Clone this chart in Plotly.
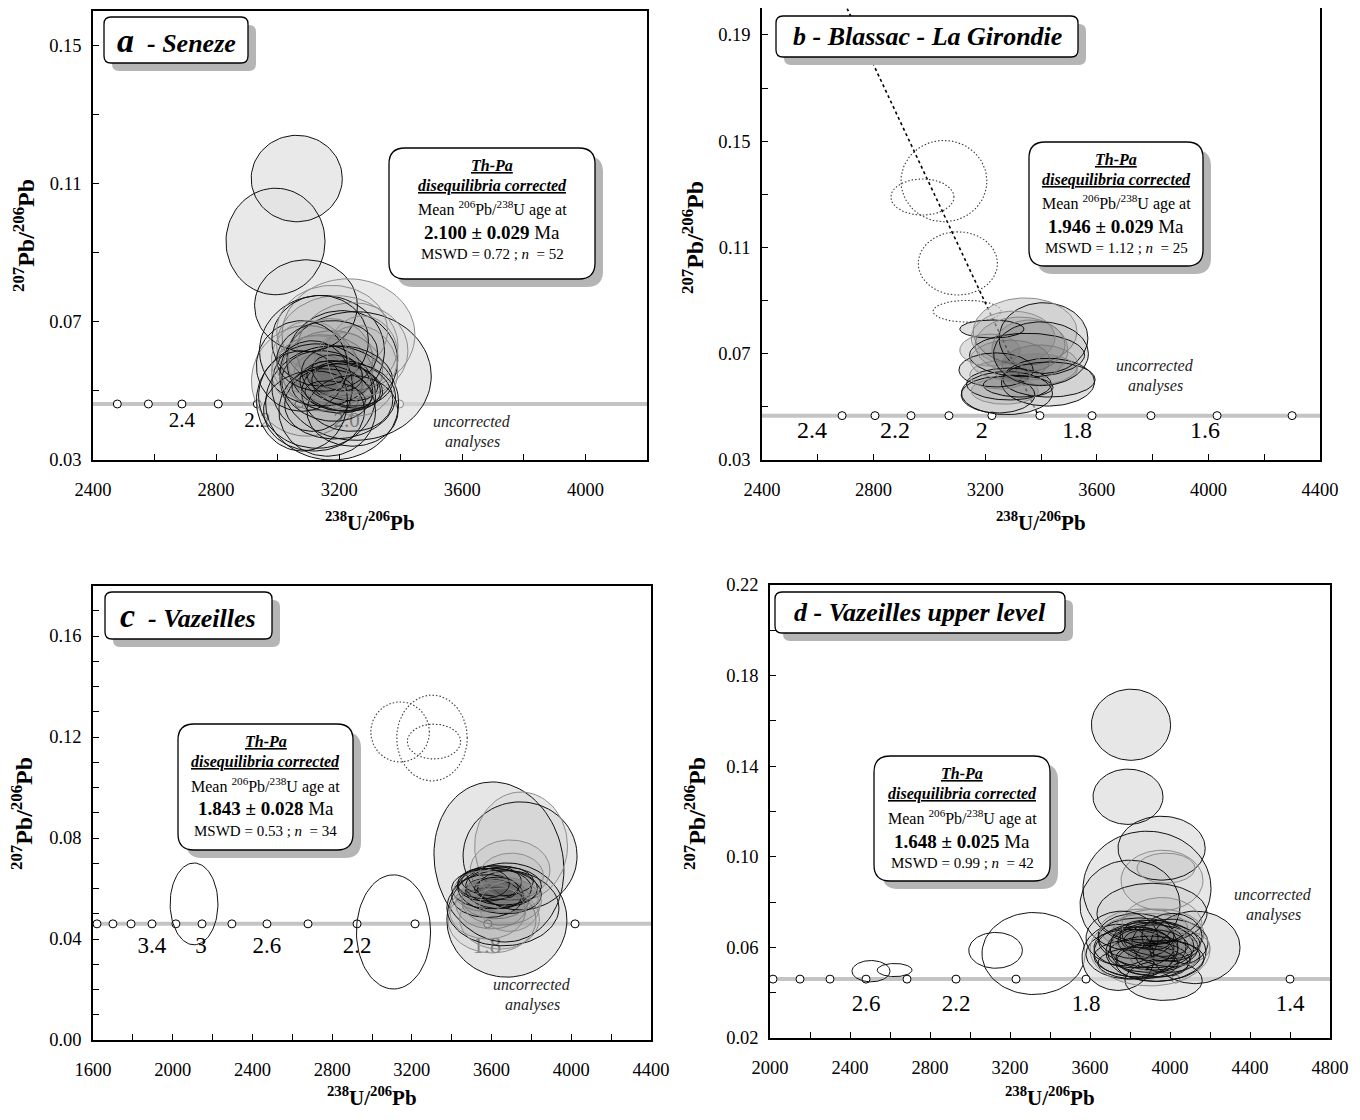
import numpy as np
import plotly.graph_objects as go

PAGE_W, PAGE_H, BODY = 1360, 1120, 8
W, H = PAGE_W - 2 * BODY, PAGE_H - 2 * BODY
SERIF = "Liberation Serif"

# ======================= DATA =======================
# ---- Panel a : Seneze (filled analyses) ----
A_CX = [3062, 2993, 3092, 3253, 3177, 3230, 3144, 3095, 3210, 3128,
        3177, 3161, 3210, 3177, 3144, 3243, 3079, 3194, 3118, 3226,
        3171, 3138, 3259, 3203, 3151, 3226, 3112, 3177, 3243, 3079,
        3194, 3217, 3161, 3128, 3226, 3187, 3161, 3105, 3276, 3203]
A_CY = [0.1114, 0.0932, 0.0746, 0.0543, 0.0465, 0.0662, 0.0616, 0.0529, 0.0587, 0.0485,
        0.0558, 0.0514, 0.0529, 0.0500, 0.0552, 0.0616, 0.0572, 0.0630, 0.0442, 0.0485,
        0.0587, 0.0645, 0.0558, 0.0471, 0.0534, 0.0514, 0.0514, 0.0674, 0.0442, 0.0471,
        0.0552, 0.0581, 0.0601, 0.0572, 0.0543, 0.0485, 0.0442, 0.0587, 0.0601, 0.0514]
A_RX = [148, 161, 167, 246, 216, 216, 203, 180, 180, 190,
        164, 148, 115, 131, 164, 180, 148, 197, 164, 148,
        138, 157, 131, 180, 98, 115, 131, 180, 148, 148,
        82, 98, 164, 131, 148, 98, 157, 125, 115, 131]
A_RY = [0.0125, 0.0154, 0.0133, 0.0186, 0.0165, 0.0162, 0.0160, 0.0160, 0.0145, 0.0151,
        0.0116, 0.0102, 0.0058, 0.0064, 0.0110, 0.0139, 0.0131, 0.0145, 0.0116, 0.0102,
        0.0122, 0.0131, 0.0131, 0.0110, 0.0073, 0.0064, 0.0131, 0.0131, 0.0102, 0.0145,
        0.0052, 0.0087, 0.0102, 0.0087, 0.0087, 0.0044, 0.0131, 0.0116, 0.0116, 0.0073]
A_RHO = [0, 0, 0, 0, 0, 0, 0, 0, 0, 0,
         0, -0.15, -0.3, -0.2, 0, 0, 0, 0, 0, -0.1,
         0, 0, 0, 0.1, -0.2, -0.25, 0, 0, 0, 0,
         -0.2, 0, 0.1, 0, -0.15, -0.3, 0, 0, 0, -0.2]
A_DARK = [1, 1, 1, 1, 1, 0, 1, 0, 1, 1,
          0, 1, 1, 1, 0, 0, 1, 0, 1, 1,
          0, 1, 0, 1, 0, 1, 1, 0, 1, 1,
          1, 0, 1, 0, 1, 1, 1, 0, 0, 1]
A_CONC_Y = 0.0462
A_MARK_X = [2479, 2580, 2689, 2807, 2934, 3070, 3224, 3396]
A_LAB_T = ["2.4", "2.2", "2.0"]
A_LAB_X = [2689, 2934, 3224]
A_LAB_Y = 0.0410

# ---- Panel b : Blassac - La Girondie ----
B_CX = [3278, 3224, 3409, 3343, 3239, 3246, 3429, 3425, 3318, 3285, 3350,
        3325, 3289, 3396, 3253, 3360, 3217, 3300, 3380, 3270, 3400]
B_CY = [0.0552, 0.0793, 0.0759, 0.0784, 0.0639, 0.0545, 0.0603, 0.0593, 0.0578, 0.0586, 0.0695,
        0.0733, 0.0676, 0.0658, 0.0620, 0.0714, 0.0714, 0.0760, 0.0640, 0.0560, 0.0700]
B_RX = [163, 115, 159, 186, 133, 132, 165, 167, 125, 152, 206,
        161, 143, 136, 108, 136, 108, 150, 150, 120, 170]
B_RY = [0.0081, 0.0034, 0.0133, 0.0126, 0.0064, 0.0068, 0.0066, 0.0090, 0.0041, 0.0060, 0.0082,
        0.0105, 0.0075, 0.0075, 0.0053, 0.0113, 0.0060, 0.0100, 0.0060, 0.0050, 0.0120]
B_RHO = [0, 0, 0, 0, 0, 0, 0, 0, -0.1, 0, 0,
         0, 0, 0, 0, 0, 0, 0, 0, 0, 0]
B_DARK = [1, 1, 1, 0, 1, 1, 1, 1, 1, 1, 1,
          0, 0, 0, 0, 0, 0, 0, 0, 0, 1]
B_X_CX = [3052, 2975, 3102, 3135]          # excluded (dotted)
B_X_CY = [0.1350, 0.1290, 0.1040, 0.0860]
B_X_RX = [154, 113, 142, 122]
B_X_RY = [0.0153, 0.0068, 0.0119, 0.0041]
B_MIX_X = [2705, 3389]
B_MIX_Y = [0.2000, 0.0470]
B_CONC_Y = 0.0467
B_MARK_X = [2687, 2805, 2934, 3070, 3224, 3396, 3583, 3794, 4031, 4300]
B_LAB_T = ["2.4", "2.2", "2", "1.8", "1.6"]
B_LAB_X = [2579, 2877, 3188, 3529, 3988]
B_LAB_Y = 0.0405

# ---- Panel c : Vazeilles ----
C_CX = [3637, 3677, 3743, 3748, 3693, 3602, 3657, 3600, 3640, 3580, 3660, 3620, 3590,
        3650, 3610, 3680, 3560, 3630, 3600, 3670, 3625, 3580, 3700, 3640, 3560, 3690]
C_CY = [0.0705, 0.0475, 0.0729, 0.0768, 0.0673, 0.0475, 0.0523, 0.0600, 0.0590, 0.0570, 0.0610, 0.0560, 0.0620,
        0.0550, 0.0580, 0.0600, 0.0590, 0.0630, 0.0540, 0.0570, 0.0600, 0.0510, 0.0650, 0.0480, 0.0620, 0.0530]
C_RX = [326, 301, 286, 233, 200, 221, 281, 200, 210, 180, 190, 170, 160,
        200, 140, 150, 150, 180, 180, 170, 110, 190, 160, 200, 130, 150]
C_RY = [0.0317, 0.0226, 0.0214, 0.0214, 0.0119, 0.0130, 0.0150, 0.0080, 0.0090, 0.0085, 0.0075, 0.0080, 0.0070,
        0.0095, 0.0060, 0.0070, 0.0080, 0.0060, 0.0100, 0.0065, 0.0045, 0.0110, 0.0090, 0.0120, 0.0060, 0.0100]
C_RHO = [-0.1, 0, 0, 0, 0, 0, 0, 0, -0.15, 0, 0, 0, 0.1,
         0, -0.2, 0, 0, 0, 0, 0, 0, 0, 0, 0, 0, 0]
C_DARK = [1, 1, 1, 0, 0, 0, 1, 1, 1, 1, 1, 0, 1,
          0, 1, 1, 0, 1, 0, 0, 1, 0, 0, 0, 1, 0]
C_X_CX = [3141, 3301, 3311]                # excluded (dotted)
C_X_CY = [0.1220, 0.1196, 0.1182]
C_X_RX = [147, 177, 134]
C_X_RY = [0.0119, 0.0170, 0.0069]
C_O_CX = [2107, 3108]                      # open ellipses
C_O_CY = [0.0539, 0.0428]
C_O_RX = [120, 186]
C_O_RY = [0.0162, 0.0226]
C_CONC_Y = 0.0460
C_MARK_X = [1620, 1700, 1791, 1896, 2016, 2147, 2297, 2473, 2679, 2925, 3216, 3581, 4019]
C_LAB_T = ["3.4", "3", "2.6", "2.2", "1.8"]
C_LAB_X = [1896, 2142, 2473, 2925, 3577]
C_LAB_Y = 0.0368

# ---- Panel d : Vazeilles upper level ----
D_CX = [3805, 3790, 3958, 3885, 3800, 3960, 3980, 4125, 3968, 3740, 3910,
        3880, 3920, 3850, 3950, 3900, 3830, 3970, 3860, 3940, 3890, 3820, 4000,
        3910, 3870, 3930, 3800, 4030, 3960, 3880, 3840, 3990, 3900, 3950, 3870,
        4010, 3930, 3760]
D_CY = [0.1583, 0.1265, 0.1038, 0.0861, 0.0786, 0.0896, 0.0950, 0.0600, 0.0454, 0.0556, 0.0750,
        0.0620, 0.0600, 0.0590, 0.0630, 0.0570, 0.0650, 0.0580, 0.0550, 0.0660, 0.0610, 0.0600, 0.0620,
        0.0540, 0.0680, 0.0580, 0.0570, 0.0600, 0.0700, 0.0640, 0.0530, 0.0560, 0.0590, 0.0540, 0.0600,
        0.0650, 0.0620, 0.0640]
D_RX = [198, 175, 218, 320, 250, 205, 145, 225, 193, 180, 275,
        240, 220, 230, 200, 210, 190, 180, 240, 230, 150, 200, 190,
        180, 220, 250, 220, 170, 200, 120, 200, 160, 300, 220, 170,
        150, 160, 180]
D_RY = [0.0157, 0.0122, 0.0141, 0.0252, 0.0199, 0.0133, 0.0066, 0.0160, 0.0088, 0.0146, 0.0133,
        0.0110, 0.0100, 0.0120, 0.0090, 0.0080, 0.0100, 0.0095, 0.0085, 0.0110, 0.0070, 0.0090, 0.0105,
        0.0070, 0.0090, 0.0130, 0.0110, 0.0080, 0.0120, 0.0050, 0.0070, 0.0070, 0.0160, 0.0090, 0.0120,
        0.0100, 0.0060, 0.0120]
D_RHO = [0, 0, 0, 0, 0, 0, 0, 0, 0, 0, 0,
         -0.15, 0, 0.1, -0.2, 0, 0, 0, -0.1, 0, -0.25, 0, 0,
         -0.2, 0, 0, 0, 0, 0, -0.3, 0, 0, 0, 0.1, 0,
         0, -0.2, 0]
D_DARK = [1, 1, 1, 1, 1, 0, 0, 1, 1, 1, 1,
          1, 1, 1, 1, 1, 1, 0, 1, 0, 1, 1, 1,
          1, 0, 1, 1, 0, 0, 1, 1, 1, 0, 1, 1,
          1, 1, 1]
D_O_CX = [3318, 3128, 2505, 2623]          # open ellipses
D_O_CY = [0.0573, 0.0587, 0.0495, 0.0500]
D_O_RX = [258, 134, 95, 87]
D_O_RY = [0.0181, 0.0079, 0.0047, 0.0029]
D_CONC_Y = 0.0460
D_MARK_X = [2015, 2150, 2300, 2480, 2685, 2930, 3230, 3580, 4029, 4600]
D_LAB_T = ["2.6", "2.2", "1.8", "1.4"]
D_LAB_X = [2480, 2930, 3580, 4600]
D_LAB_Y = 0.0344

# ======================= HELPERS =======================
T = np.linspace(0, 2 * np.pi, 91)


def ell(cx, cy, rx, ry, rho=0.0):
    phi = np.arcsin(rho)
    return cx + rx * np.cos(T), cy + ry * np.sin(T + phi)


def PX(x):   # page pixel -> paper fraction
    return (x - BODY) / W


def PY(y):
    return 1 - (y - BODY) / H


def P(x, y):
    return f"{PX(x):.5f},{PY(y):.5f}"


def rr_path(x0, y0, x1, y1, r):
    return (f"M {P(x0 + r, y0)} L {P(x1 - r, y0)} Q {P(x1, y0)} {P(x1, y0 + r)} "
            f"L {P(x1, y1 - r)} Q {P(x1, y1)} {P(x1 - r, y1)} L {P(x0 + r, y1)} "
            f"Q {P(x0, y1)} {P(x0, y1 - r)} L {P(x0, y0 + r)} Q {P(x0, y0)} {P(x0 + r, y0)} Z")


fig = go.Figure()
shapes = []
annots = []


def ann(px, py, text, size, **kw):
    d = dict(x=PX(px), y=PY(py), xref="paper", yref="paper", text=text,
             showarrow=False, xanchor="center", yanchor="middle",
             font=dict(family=SERIF, size=size, color=kw.pop("color", "black")))
    d.update(kw)
    annots.append(d)


def box(x0, y0, x1, y1, r, off=8):
    shapes.append(dict(type="path", xref="paper", yref="paper", layer="above",
                       path=rr_path(x0 + off, y0 + off, x1 + off, y1 + off, r),
                       fillcolor="#b5b5b5", line=dict(width=0)))
    shapes.append(dict(type="path", xref="paper", yref="paper", layer="above",
                       path=rr_path(x0, y0, x1, y1, r),
                       fillcolor="white", line=dict(color="black", width=1.3)))


panels = [
    dict(n="", xr=[2400, 4200], yr=[0.03, 0.16], xd=(93, 647), yd=(10.5, 460),
         xt=400, xm=200, y0=0.03, yt=0.04, ym=0.02,
         cx=A_CX, cy=A_CY, rx=A_RX, ry=A_RY, rho=A_RHO, dark=A_DARK,
         base="rgba(228,228,228,0.62)", dk=0.018,
         conc=A_CONC_Y, mx=A_MARK_X, lt=A_LAB_T, lx=A_LAB_X, ly=A_LAB_Y, ls=21),
    dict(n="2", xr=[2400, 4400], yr=[0.03, 0.20], xd=(762, 1320), yd=(8.4, 460),
         xt=400, xm=200, y0=0.03, yt=0.04, ym=0.02,
         cx=B_CX, cy=B_CY, rx=B_RX, ry=B_RY, rho=B_RHO, dark=B_DARK,
         base="rgba(224,224,224,0.65)", dk=0.05,
         conc=B_CONC_Y, mx=B_MARK_X, lt=B_LAB_T, lx=B_LAB_X, ly=B_LAB_Y, ls=24,
         xc=(B_X_CX, B_X_CY, B_X_RX, B_X_RY)),
    dict(n="3", xr=[1600, 4400], yr=[0.0, 0.18], xd=(93, 651), yd=(585.5, 1040),
         xt=400, xm=200, y0=0.0, yt=0.04, ym=0.01,
         cx=C_CX, cy=C_CY, rx=C_RX, ry=C_RY, rho=C_RHO, dark=C_DARK,
         base="rgba(228,228,228,0.62)", dk=0.03,
         conc=C_CONC_Y, mx=C_MARK_X, lt=C_LAB_T, lx=C_LAB_X, ly=C_LAB_Y, ls=23,
         xc=(C_X_CX, C_X_CY, C_X_RX, C_X_RY), op=(C_O_CX, C_O_CY, C_O_RX, C_O_RY)),
    dict(n="4", xr=[2000, 4800], yr=[0.02, 0.22], xd=(770, 1330), yd=(585, 1038),
         xt=400, xm=200, y0=0.02, yt=0.04, ym=0.02,
         cx=D_CX, cy=D_CY, rx=D_RX, ry=D_RY, rho=D_RHO, dark=D_DARK,
         base="rgba(228,228,228,0.62)", dk=0.028,
         conc=D_CONC_Y, mx=D_MARK_X, lt=D_LAB_T, lx=D_LAB_X, ly=D_LAB_Y, ls=23,
         op=(D_O_CX, D_O_CY, D_O_RX, D_O_RY)),
]

layout_axes = {}
for p in panels:
    xa, ya = "x" + p["n"], "y" + p["n"]
    layout_axes["xaxis" + p["n"]] = dict(
        domain=[PX(p["xd"][0]), PX(p["xd"][1])], range=p["xr"], anchor=ya,
        automargin=False,
        tick0=p["xr"][0], dtick=p["xt"], ticks="inside", ticklen=6, tickwidth=1,
        tickcolor="black", minor=dict(dtick=p["xm"], tick0=p["xr"][0], ticks="inside",
                                      ticklen=6, tickcolor="black", tickwidth=1),
        showline=True, mirror=True, linecolor="black", linewidth=1.5,
        showgrid=False, zeroline=False, ticklabelstandoff=12,
        tickfont=dict(family=SERIF, size=18.5, color="black"))
    layout_axes["yaxis" + p["n"]] = dict(
        domain=[PY(p["yd"][1]), PY(p["yd"][0])], range=p["yr"], anchor=xa,
        automargin=False,
        tick0=p["y0"], dtick=p["yt"], tickformat=".2f", ticks="inside", ticklen=6,
        tickwidth=1, tickcolor="black",
        minor=dict(dtick=p["ym"], tick0=p["y0"], ticks="inside", ticklen=6,
                   tickcolor="black", tickwidth=1),
        showline=True, mirror=True, linecolor="black", linewidth=1.5,
        showgrid=False, zeroline=False, ticklabelstandoff=6,
        tickfont=dict(family=SERIF, size=18.5, color="black"))

    common = dict(xaxis=xa, yaxis=ya, hoverinfo="skip", showlegend=False)
    # concordia
    fig.add_trace(go.Scatter(x=p["xr"], y=[p["conc"]] * 2, mode="lines",
                             line=dict(color="#c4c4c4", width=4), **common))
    fig.add_trace(go.Scatter(x=p["mx"], y=[p["conc"]] * len(p["mx"]), mode="markers",
                             marker=dict(size=8, color="white",
                                         line=dict(color="black", width=1)), **common))
    fig.add_trace(go.Scatter(x=p["lx"], y=[p["ly"]] * len(p["lx"]), mode="text",
                             text=p["lt"], textposition="middle center",
                             textfont=dict(family=SERIF, size=p["ls"], color="black"),
                             **common))
    if p["n"] == "2":
        fig.add_trace(go.Scatter(x=B_MIX_X, y=B_MIX_Y, mode="lines",
                                 line=dict(color="black", width=1.6, dash="dot"), **common))
    if "xc" in p:
        for cx, cy, rx, ry in zip(*p["xc"]):
            ex, ey = ell(cx, cy, rx, ry)
            fig.add_trace(go.Scatter(x=ex, y=ey, mode="lines",
                                     line=dict(color="#3a3a3a", width=1.1, dash="1.5px,2px"),
                                     **common))
    if "op" in p:
        for cx, cy, rx, ry in zip(*p["op"]):
            ex, ey = ell(cx, cy, rx, ry)
            fig.add_trace(go.Scatter(x=ex, y=ey, mode="lines",
                                     line=dict(color="#111111", width=1), **common))
    # base translucent fill (union)
    bx, by = [], []
    for cx, cy, rx, ry, rh in zip(p["cx"], p["cy"], p["rx"], p["ry"], p["rho"]):
        ex, ey = ell(cx, cy, rx, ry, rh)
        bx += list(ex) + [None]
        by += list(ey) + [None]
    fig.add_trace(go.Scatter(x=bx, y=by, mode="lines", fill="toself",
                             fillcolor=p["base"], line=dict(width=0), **common))
    for cx, cy, rx, ry, rh, dk in zip(p["cx"], p["cy"], p["rx"], p["ry"], p["rho"], p["dark"]):
        ex, ey = ell(cx, cy, rx, ry, rh)
        fig.add_trace(go.Scatter(x=ex, y=ey, mode="lines", fill="toself",
                                 fillcolor=f"rgba(0,0,0,{p['dk']})",
                                 line=dict(color="#111111" if dk else "#8c8c8c", width=1),
                                 **common))

# ---------------- title boxes ----------------
box(104, 17, 248, 63, 7)
ann(176, 40, "<b><i><span style='font-size:34px'>a</span>  - Seneze</i></b>", 26)
box(776, 16, 1078, 57, 7)
ann(927, 36.5, "<b><i>b - Blassac - La Girondie</i></b>", 26)
box(105, 592, 272, 639, 7)
ann(188, 615.5, "<b><i><span style='font-size:34px'>c</span>  - Vazeilles</i></b>", 26)
box(775, 592, 1065, 633, 7)
ann(920, 612.5, "<b><i>d - Vazeilles upper level</i></b>", 26)

# ---------------- info boxes ----------------
INFO = [
    ((389, 148, 595, 279), [166, 186, 209, 233, 254], "2.100 ± 0.029", "0.72", "52"),
    ((1029, 142, 1203, 266), [160, 180, 203, 226, 248], "1.946 ± 0.029", "1.12", "25"),
    ((178, 724, 353, 850), [741, 762, 785, 808, 831], "1.843 ± 0.028", "0.53", "34"),
    ((874, 756, 1050, 881), [773, 794, 817, 841, 863], "1.648 ± 0.025", "0.99", "42"),
]
for (x0, y0, x1, y1), ys, age, mswd, n in INFO:
    box(x0, y0, x1, y1, 16)
    xc = (x0 + x1) / 2
    ann(xc, ys[0], "<b><i><u>Th-Pa</u></i></b>", 16)
    ann(xc, ys[1], "<b><i><u>disequilibria corrected</u></i></b>", 16)
    ann(xc, ys[2], "Mean <sup>206</sup>Pb/<sup>238</sup>U age at", 16)
    ann(xc, ys[3], f"<b>{age}</b> Ma", 19)
    ann(xc, ys[4], f"MSWD = {mswd} ; <i>n</i>  = {n}", 15)

# ---------------- uncorrected analyses ----------------
for px, py in [(472, 421), (1155, 365), (532, 984), (1273, 894)]:
    ann(px, py, "<i>uncorrected</i>", 16, color="#222222")
    ann(px, py + 21, "<i>analyses</i>", 16, color="#222222")

# ---------------- axis titles ----------------
XT = "<b><sup>238</sup>U/<sup>206</sup>Pb</b>"
YT = "<b><sup>207</sup>Pb/<sup>206</sup>Pb</b>"
for px, py in [(370, 521), (1041, 521), (372, 1096), (1050, 1096)]:
    ann(px, py, XT, 21)
for px, py in [(24, 236), (693, 238), (22, 814), (695, 814)]:
    ann(px, py, YT, 24, textangle=-90)

fig.update_layout(width=W, height=H,
                  margin=dict(l=0, r=0, t=0, b=0, pad=0, autoexpand=False),
                  plot_bgcolor="white", paper_bgcolor="white", showlegend=False,
                  font=dict(family=SERIF, color="black"),
                  shapes=shapes, annotations=annots, **layout_axes)

fig.write_html("out.html")
